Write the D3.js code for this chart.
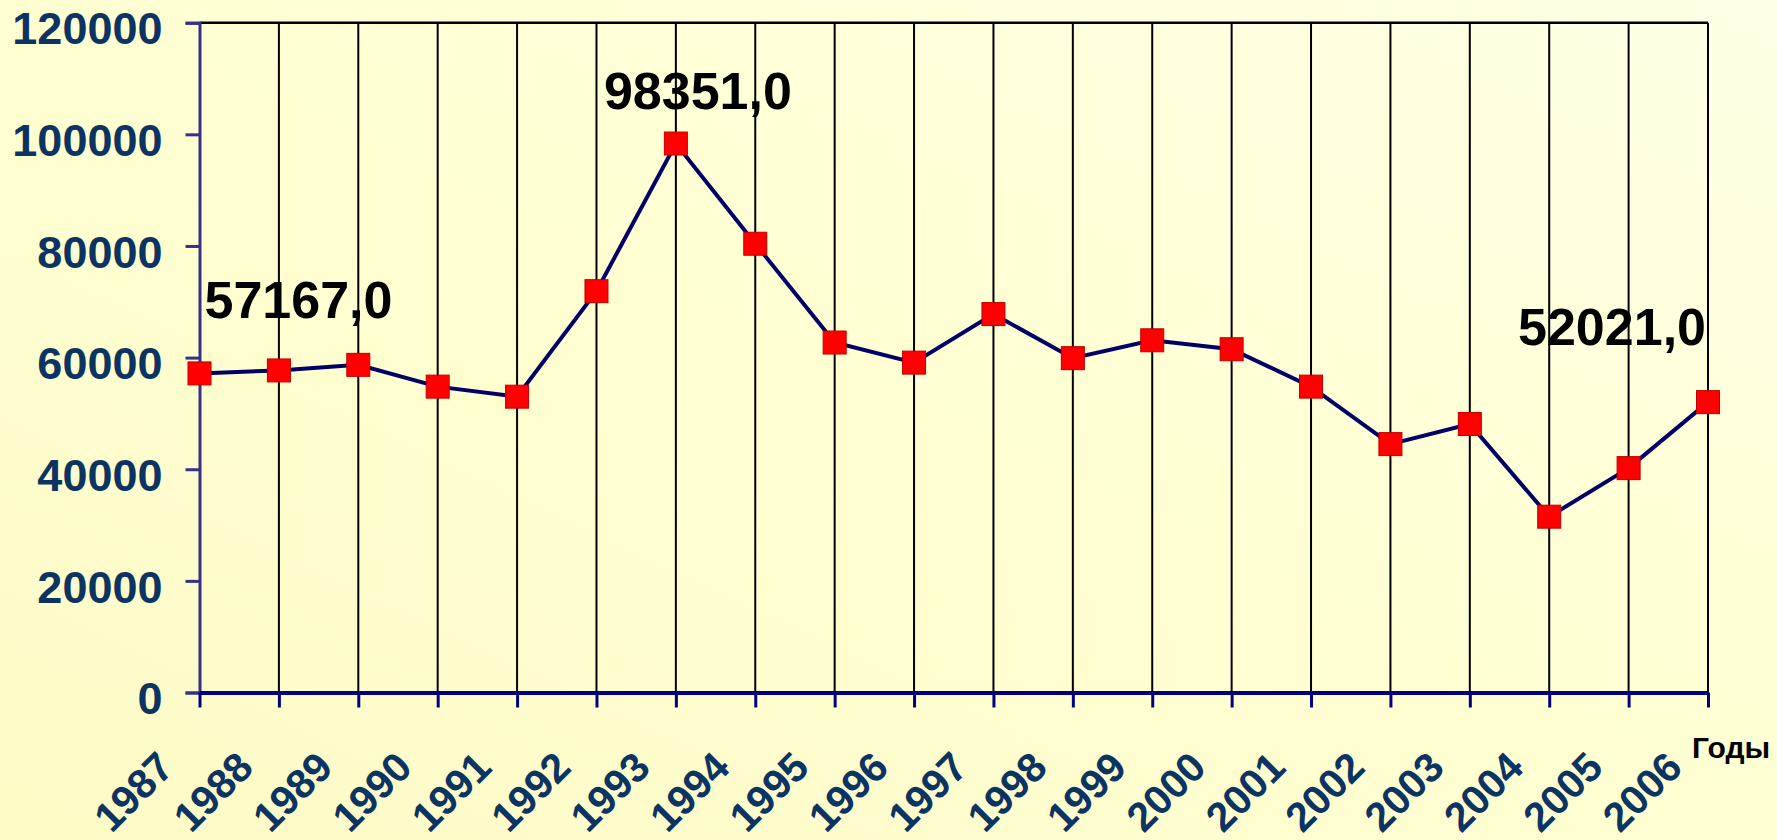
<!DOCTYPE html>
<html>
<head>
<meta charset="utf-8">
<script src="https://cdn.jsdelivr.net/npm/d3@7"></script>
<style>
  body { margin: 0; overflow: hidden; }
  svg { display: block; font-family: "Liberation Sans", Arial, sans-serif; }
</style>
</head>
<body>
<div id="chart"></div>
<script>
// data
const years = [1987, 1988, 1989, 1990, 1991, 1992, 1993, 1994, 1995, 1996,
               1997, 1998, 1999, 2000, 2001, 2002, 2003, 2004, 2005, 2006];
const values = [57167, 57700, 58700, 54800, 53000, 71900, 98351, 80400, 62700, 59100,
                67800, 59900, 63100, 61500, 54800, 44500, 48100, 31500, 40200, 52021];
const yTicks = [0, 20000, 40000, 60000, 80000, 100000, 120000];
const labelYears = [1987, 1993, 2006];
const xTitle = "Годы";

const width = 1777, height = 840;
const plotLeft = 199.5, plotRight = 1708, plotTop = 22.7, plotBottom = 692.5;

const svg = d3.select("#chart").append("svg")
    .attr("width", width)
    .attr("height", height);

// pale yellow background
const grad = svg.append("defs").append("linearGradient")
    .attr("id", "bg")
    .attr("x1", "0").attr("y1", "1").attr("x2", "1").attr("y2", "0");
grad.append("stop").attr("offset", "0%").attr("stop-color", "#fdfac6");
grad.append("stop").attr("offset", "50%").attr("stop-color", "#ffffd2");
grad.append("stop").attr("offset", "100%").attr("stop-color", "#ffffe6");
svg.append("rect").attr("width", width).attr("height", height).attr("fill", "url(#bg)");

const x = d3.scalePoint().domain(years).range([plotLeft, plotRight]).padding(0);
const y = d3.scaleLinear().domain([0, 120000]).range([plotBottom, plotTop]);

// vertical grid lines
svg.append("g").selectAll("line")
    .data(years.slice(1))
    .enter().append("line")
    .attr("x1", d => x(d)).attr("x2", d => x(d))
    .attr("y1", plotTop).attr("y2", plotBottom)
    .attr("stroke", "#000").attr("stroke-width", 2);

// top border
svg.append("line")
    .attr("x1", plotLeft).attr("x2", plotRight)
    .attr("y1", plotTop).attr("y2", plotTop)
    .attr("stroke", "#000").attr("stroke-width", 2.5);

// y axis
const yAxis = svg.append("g")
    .attr("transform", `translate(${plotLeft},0)`)
    .call(d3.axisLeft(y).tickValues(yTicks).tickSize(14).tickPadding(23).tickFormat(d3.format("d")));
yAxis.select(".domain").attr("stroke", "#35308c").attr("stroke-width", 3);
yAxis.selectAll(".tick line").attr("stroke", "#35308c").attr("stroke-width", 3);
yAxis.selectAll("text")
    .attr("dy", "0.47em")
    .attr("fill", "#0c3462")
    .style("font-size", "45px")
    .style("font-weight", "bold");

// x axis
const xAxis = svg.append("g")
    .attr("transform", `translate(0,${plotBottom})`)
    .call(d3.axisBottom(x).tickSize(15).tickSizeOuter(0));
xAxis.select(".domain").attr("stroke", "#000080").attr("stroke-width", 4);
xAxis.selectAll(".tick line").attr("stroke", "#000080").attr("stroke-width", 3);
xAxis.selectAll("text")
    .attr("x", 0).attr("y", 0).attr("dy", 0)
    .attr("text-anchor", "end")
    .attr("transform", "translate(-24,77) rotate(-45)")
    .attr("fill", "#0c3462")
    .style("font-size", "41px")
    .style("font-weight", "bold");

svg.append("text")
    .attr("x", 1692).attr("y", 758)
    .attr("fill", "#000")
    .style("font-size", "30px")
    .style("font-weight", "bold")
    .text(xTitle);

// line
const pts = years.map((yr, i) => ({ year: yr, value: values[i] }));
svg.append("path")
    .datum(pts)
    .attr("fill", "none")
    .attr("stroke", "#000066")
    .attr("stroke-width", 4)
    .attr("d", d3.line().x(d => x(d.year)).y(d => y(d.value)));

// square markers
const s = 23;
svg.append("g").selectAll("rect")
    .data(pts)
    .enter().append("rect")
    .attr("x", d => x(d.year) - s / 2)
    .attr("y", d => y(d.value) - s / 2)
    .attr("width", s).attr("height", s)
    .attr("fill", "#ff0000")
    .attr("stroke", "#c00000")
    .attr("stroke-width", 1);

// value labels
const labelPos = {
    1987: { anchor: "start", dx: 5, dy: -55 },
    1993: { anchor: "middle", dx: 22, dy: -35 },
    2006: { anchor: "end", dx: -2, dy: -57 }
};
svg.append("g").selectAll("text")
    .data(pts.filter(d => labelYears.includes(d.year)))
    .enter().append("text")
    .attr("x", d => x(d.year) + labelPos[d.year].dx)
    .attr("y", d => y(d.value) + labelPos[d.year].dy)
    .attr("text-anchor", d => labelPos[d.year].anchor)
    .attr("fill", "#000")
    .style("font-size", "52px")
    .style("font-weight", "bold")
    .text(d => d.value.toFixed(1).replace(".", ","));
</script>
</body>
</html>
